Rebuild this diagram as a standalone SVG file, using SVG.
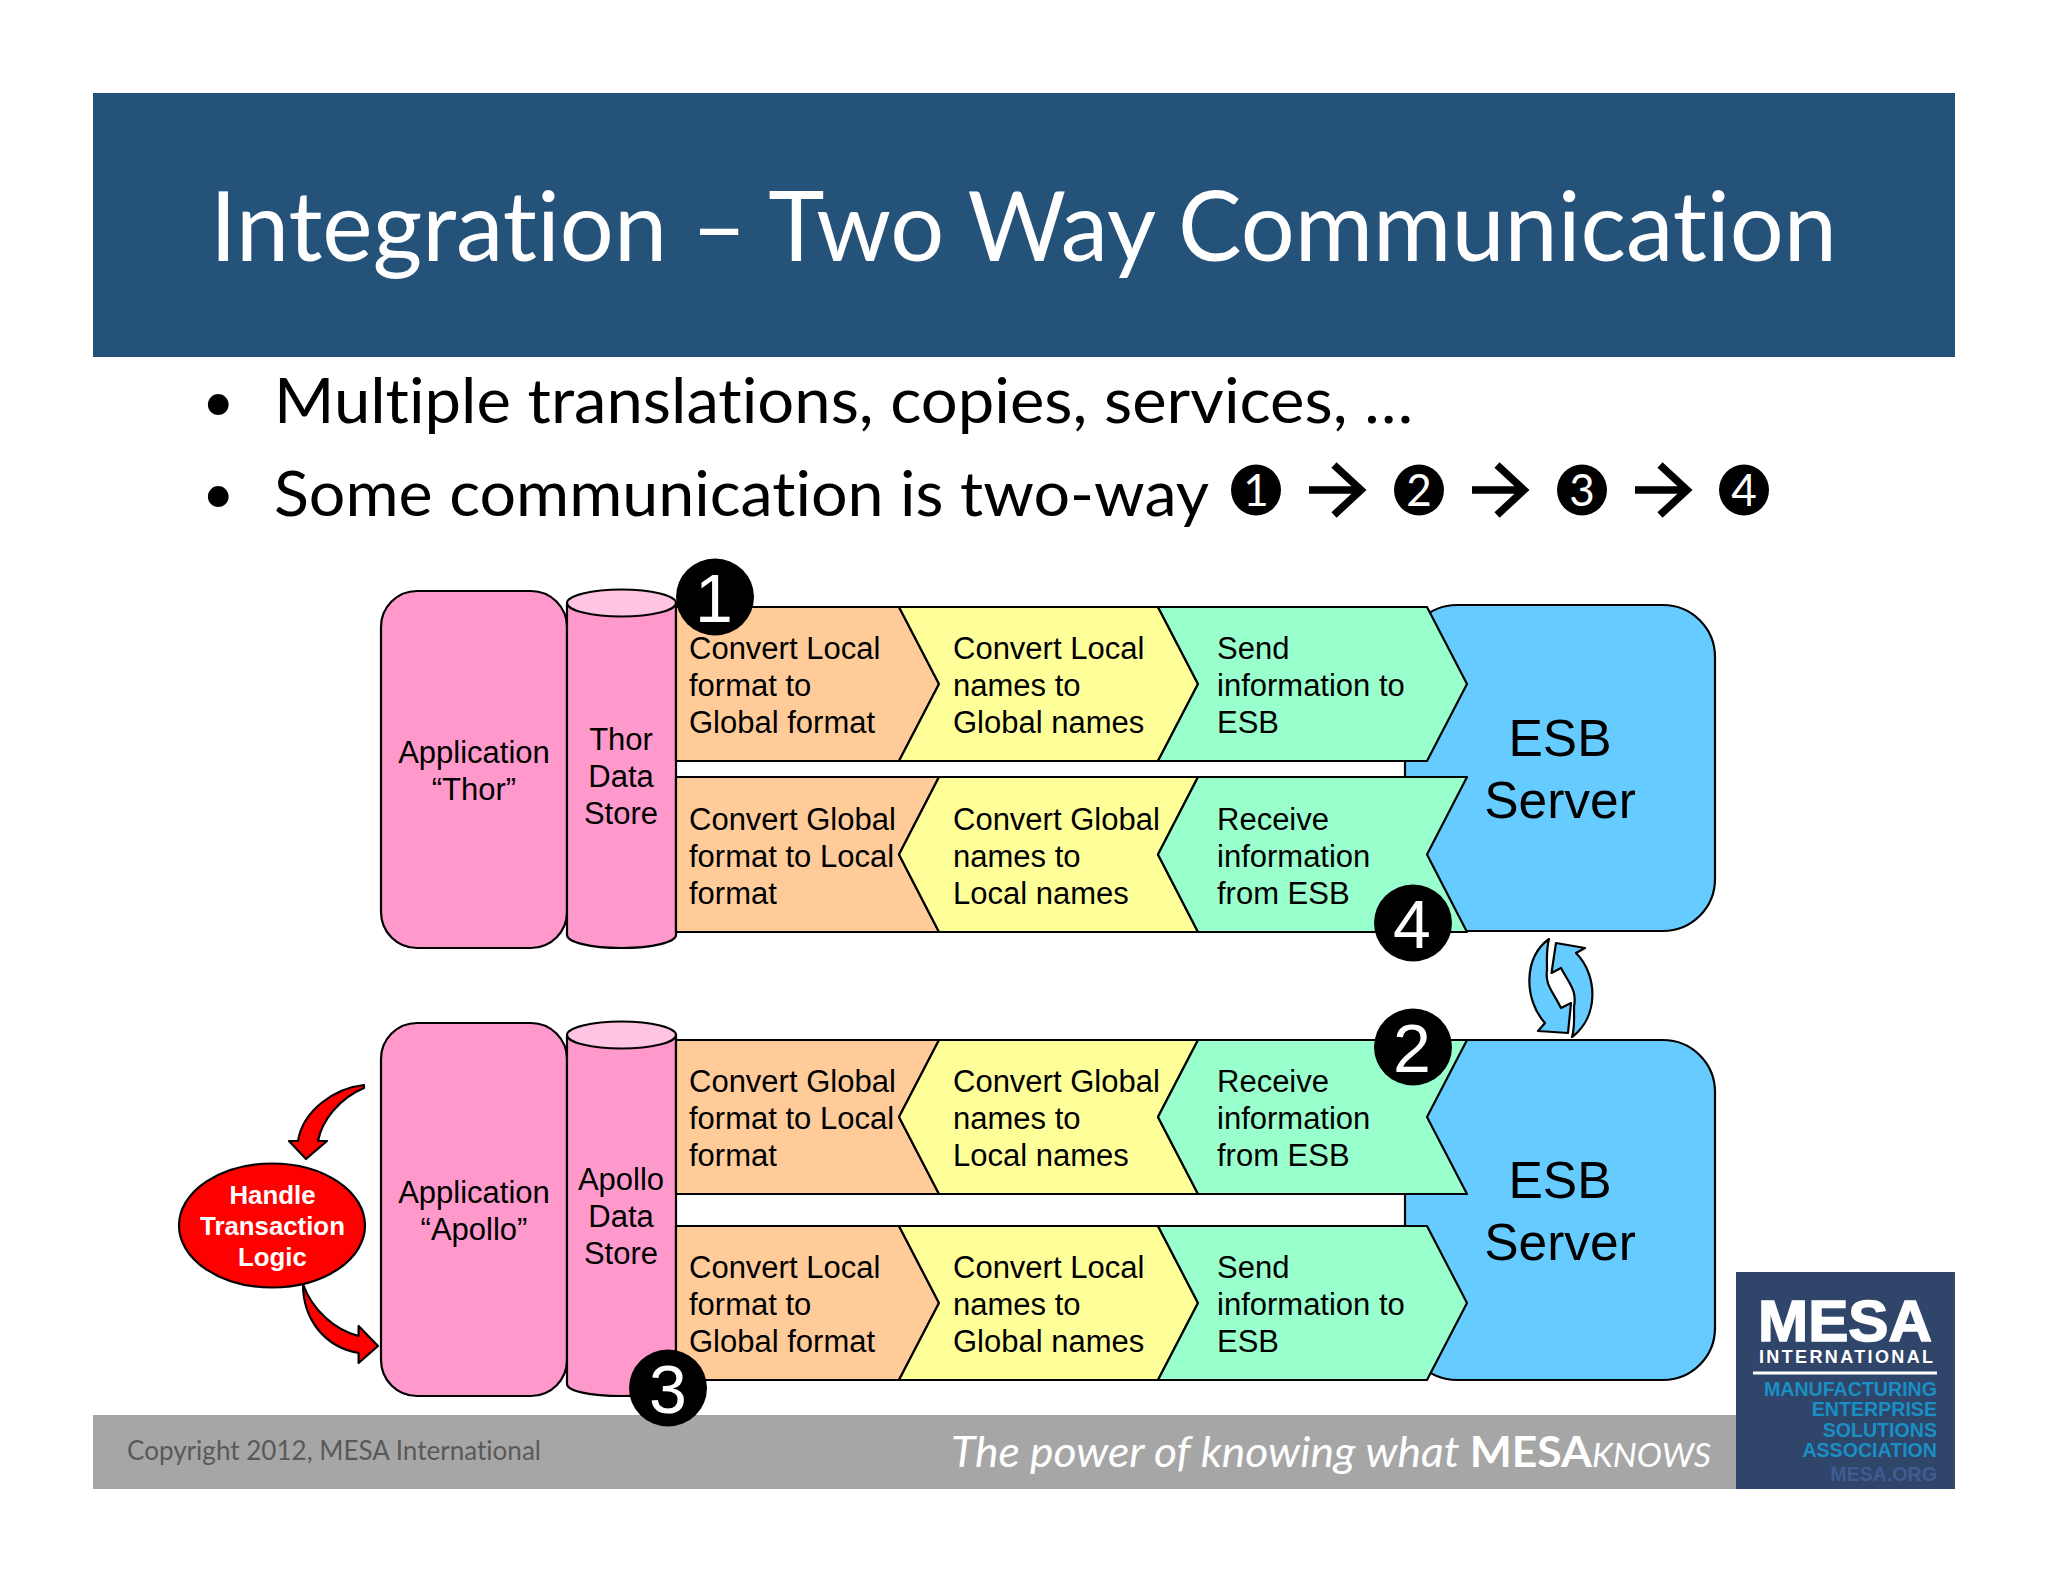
<svg xmlns="http://www.w3.org/2000/svg" width="2048" height="1582" viewBox="0 0 2048 1582">
<style>
text{font-family:"Liberation Sans",Arial,sans-serif}
.lato{font-family:Lato,"Open Sans",sans-serif;font-variant-ligatures:none}
.s{stroke:#000;stroke-width:2.2;stroke-linejoin:round}
.pink{fill:#ff99cc}.or{fill:#ffcc99}.ye{fill:#ffff99}.gr{fill:#99ffcc}.bl{fill:#66ccff}
.t{font-size:31px;fill:#000}
.m{text-anchor:middle}
.esb{font-size:51.500px;text-anchor:middle;fill:#000}
.badge{font-size:68px;fill:#fff;text-anchor:middle}
.dig{font-family:Lato,sans-serif;font-size:44px;font-weight:400;fill:#fff;text-anchor:middle}
.arr{fill:none;stroke:#000;stroke-width:7.5}
.bul{font-size:62px;fill:#000}
.lg{font-size:19.600px;font-weight:700;fill:#1a8fc4;text-anchor:end}
</style>
<rect width="2048" height="1582" fill="#fff"/>
<g id="header">
<rect x="93" y="93" width="1862" height="264" fill="#255279"/>
<text class="lato" x="210" y="261" font-size="96" fill="#fff" textLength="1627" lengthAdjust="spacingAndGlyphs">Integration – Two Way Communication</text>
</g>
<g id="bullets">
<text class="lato" font-size="56" x="202" y="421">•</text>
<text class="lato bul" x="274" y="423" textLength="1139" lengthAdjust="spacingAndGlyphs">Multiple translations, copies, services, …</text>
<text class="lato" font-size="56" x="202" y="513">•</text>
<text class="lato bul" x="274" y="516" textLength="935" lengthAdjust="spacingAndGlyphs">Some communication is two-way</text>
<ellipse cx="1256" cy="490" rx="25" ry="25.500"/><text class="dig" x="1256" y="506">1</text>
<ellipse cx="1419" cy="490" rx="25" ry="25.500"/><text class="dig" x="1419" y="506">2</text>
<ellipse cx="1582" cy="490" rx="25" ry="25.500"/><text class="dig" x="1582" y="506">3</text>
<ellipse cx="1744" cy="490" rx="25" ry="25.500"/><text class="dig" x="1744" y="506">4</text>
<path class="arr" d="M1309 490H1362M1334 465L1361 490L1334 515"/>
<path class="arr" d="M1472 490H1525M1497 465L1524 490L1497 515"/>
<path class="arr" d="M1635 490H1688M1660 465L1687 490L1660 515"/>
</g>
<g id="footer">
<rect x="93" y="1415" width="1644" height="74" fill="#a6a6a6"/>
<text class="lato" x="127" y="1460" font-size="26" fill="#595959" textLength="414" lengthAdjust="spacingAndGlyphs">Copyright 2012, MESA International</text>
<text class="lato" x="951" y="1467" font-size="42" fill="#fff" font-style="italic" textLength="760" lengthAdjust="spacingAndGlyphs">The power of knowing what <tspan font-weight="700" font-style="normal">MESA</tspan><tspan font-size="32">KNOWS</tspan></text>
</g>
<g id="logo">
<rect x="1736" y="1272" width="219" height="217" fill="#2f4569"/>
<text x="1758" y="1341" font-size="57" font-weight="700" fill="#fff" stroke="#fff" stroke-width="1.5" textLength="174" lengthAdjust="spacingAndGlyphs">MESA</text>
<text x="1759" y="1363" font-size="18" font-weight="700" fill="#fff" textLength="174">INTERNATIONAL</text>
<rect x="1753" y="1371.500" width="184" height="3" fill="#fff"/>
<text class="lg" x="1937" y="1396">MANUFACTURING</text>
<text class="lg" x="1937" y="1416">ENTERPRISE</text>
<text class="lg" x="1937" y="1437">SOLUTIONS</text>
<text class="lg" x="1937" y="1457">ASSOCIATION</text>
<text class="lg" x="1937" y="1481" style="fill:#3f5c91">MESA.ORG</text>
</g>
<g id="esb-thor"><rect class="s bl" x="1405" y="605" width="310" height="326" rx="52" ry="52"/></g>
<g id="esb-apollo"><rect class="s bl" x="1405" y="1040" width="310" height="340" rx="52" ry="52"/></g>
<g id="app-thor"><rect class="s pink" x="381" y="591" width="186" height="357" rx="36" ry="36"/>
<text class="t m" x="474" y="763">Application<tspan x="474" y="800">“Thor”</tspan></text></g>
<g id="store-thor"><path class="s pink" d="M567 603V935C567 942 590 948 621.500 948S676 942 676 935V603Z"/><ellipse class="s" cx="621.500" cy="603" rx="54.500" ry="13.500" fill="#ffc4e1"/>
<text class="t m" x="621" y="750">Thor<tspan x="621" y="787">Data</tspan><tspan x="621" y="824">Store</tspan></text></g>
<g id="app-apollo"><rect class="s pink" x="381" y="1023" width="186" height="373" rx="36" ry="36"/>
<text class="t m" x="474" y="1203">Application<tspan x="474" y="1240">“Apollo”</tspan></text></g>
<g id="store-apollo"><path class="s pink" d="M567 1035V1384C567 1391 590 1396 621.500 1396S676 1391 676 1384V1035Z"/><ellipse class="s" cx="621.500" cy="1035" rx="54.500" ry="13.500" fill="#ffc4e1"/>
<text class="t m" x="621" y="1190">Apollo<tspan x="621" y="1227">Data</tspan><tspan x="621" y="1264">Store</tspan></text></g>
<g id="s1a"><path class="s or" d="M676 607H899L939 684L899 761H676Z"/><text class="t" x="689" y="659">Convert Local<tspan x="689" y="696">format to</tspan><tspan x="689" y="733">Global format</tspan></text></g>
<g id="s1b"><path class="s ye" d="M899 607H1158L1198 684L1158 761H899L939 684Z"/><text class="t" x="953" y="659">Convert Local<tspan x="953" y="696">names to</tspan><tspan x="953" y="733">Global names</tspan></text></g>
<g id="s1c"><path class="s gr" d="M1158 607H1427L1467 684L1427 761H1158L1198 684Z"/><text class="t" x="1217" y="659">Send<tspan x="1217" y="696">information to</tspan><tspan x="1217" y="733">ESB</tspan></text></g>
<g id="s2a"><path class="s or" d="M676 777H939L899 854.500L939 932H676Z"/><text class="t" x="689" y="830">Convert Global<tspan x="689" y="867">format to Local</tspan><tspan x="689" y="904">format</tspan></text></g>
<g id="s2b"><path class="s ye" d="M939 777H1198L1158 854.500L1198 932H939L899 854.500Z"/><text class="t" x="953" y="830">Convert Global<tspan x="953" y="867">names to</tspan><tspan x="953" y="904">Local names</tspan></text></g>
<g id="s2c"><path class="s gr" d="M1198 777H1467L1427 854.500L1467 932H1198L1158 854.500Z"/><text class="t" x="1217" y="830">Receive<tspan x="1217" y="867">information</tspan><tspan x="1217" y="904">from ESB</tspan></text></g>
<g id="s3a"><path class="s or" d="M676 1040H939L899 1117L939 1194H676Z"/><text class="t" x="689" y="1092">Convert Global<tspan x="689" y="1129">format to Local</tspan><tspan x="689" y="1166">format</tspan></text></g>
<g id="s3b"><path class="s ye" d="M939 1040H1198L1158 1117L1198 1194H939L899 1117Z"/><text class="t" x="953" y="1092">Convert Global<tspan x="953" y="1129">names to</tspan><tspan x="953" y="1166">Local names</tspan></text></g>
<g id="s3c"><path class="s gr" d="M1198 1040H1467L1427 1117L1467 1194H1198L1158 1117Z"/><text class="t" x="1217" y="1092">Receive<tspan x="1217" y="1129">information</tspan><tspan x="1217" y="1166">from ESB</tspan></text></g>
<g id="s4a"><path class="s or" d="M676 1226H899L939 1303L899 1380H676Z"/><text class="t" x="689" y="1278">Convert Local<tspan x="689" y="1315">format to</tspan><tspan x="689" y="1352">Global format</tspan></text></g>
<g id="s4b"><path class="s ye" d="M899 1226H1158L1198 1303L1158 1380H899L939 1303Z"/><text class="t" x="953" y="1278">Convert Local<tspan x="953" y="1315">names to</tspan><tspan x="953" y="1352">Global names</tspan></text></g>
<g id="s4c"><path class="s gr" d="M1158 1226H1427L1467 1303L1427 1380H1158L1198 1303Z"/><text class="t" x="1217" y="1278">Send<tspan x="1217" y="1315">information to</tspan><tspan x="1217" y="1352">ESB</tspan></text></g>
<g id="esb-thor-label"><text class="esb" x="1560" y="756">ESB<tspan x="1560" y="818">Server</tspan></text></g>
<g id="esb-apollo-label"><text class="esb" x="1560" y="1198">ESB<tspan x="1560" y="1260">Server</tspan></text></g>
<g id="logic"><ellipse class="s" cx="272" cy="1225.500" rx="93" ry="62" fill="#ff0000"/>
<text class="m" x="272.500" y="1204" font-size="25.800" font-weight="700" fill="#fff">Handle<tspan x="272.500" y="1235">Transaction</tspan><tspan x="272.500" y="1266">Logic</tspan></text></g>
<g id="connectors">
<path class="s" fill="#ff0000" d="M364 1085C335 1088 303 1110 298 1141L289 1141L306 1159L327 1141L318 1141C322 1120 340 1098 364 1088Z"/>
<path class="s" fill="#ff0000" d="M303 1284C303 1320 325 1347 358.600 1353L358.600 1363L378 1346L358.600 1326L358.600 1336C335 1330 312 1310 303 1284Z"/>
<path class="s bl" d="M1549 939C1523 958 1524 1000 1545 1023L1538 1031L1568 1033L1571 1003L1561 1008C1552 990 1545 985 1547 970C1547 960 1546 950 1549 939Z"/>
<path class="s bl" d="M1572 1037C1599 1017 1598 975 1576 953L1585 948L1556 943L1551.500 973L1561 968C1570 985 1577 990 1574 1007C1574 1017 1575 1027 1572 1037Z"/>
</g>
<g id="badge1"><ellipse cx="715" cy="597" rx="39" ry="38.500"/><text class="badge" x="714" y="622">1</text></g>
<g id="badge2"><ellipse cx="1413" cy="1047" rx="39" ry="38.500"/><text class="badge" x="1412" y="1072">2</text></g>
<g id="badge3"><ellipse cx="668" cy="1388" rx="39" ry="38.500"/><text class="badge" x="668" y="1413">3</text></g>
<g id="badge4"><ellipse cx="1413" cy="923" rx="39" ry="38.500"/><text class="badge" x="1412" y="948">4</text></g>
</svg>
